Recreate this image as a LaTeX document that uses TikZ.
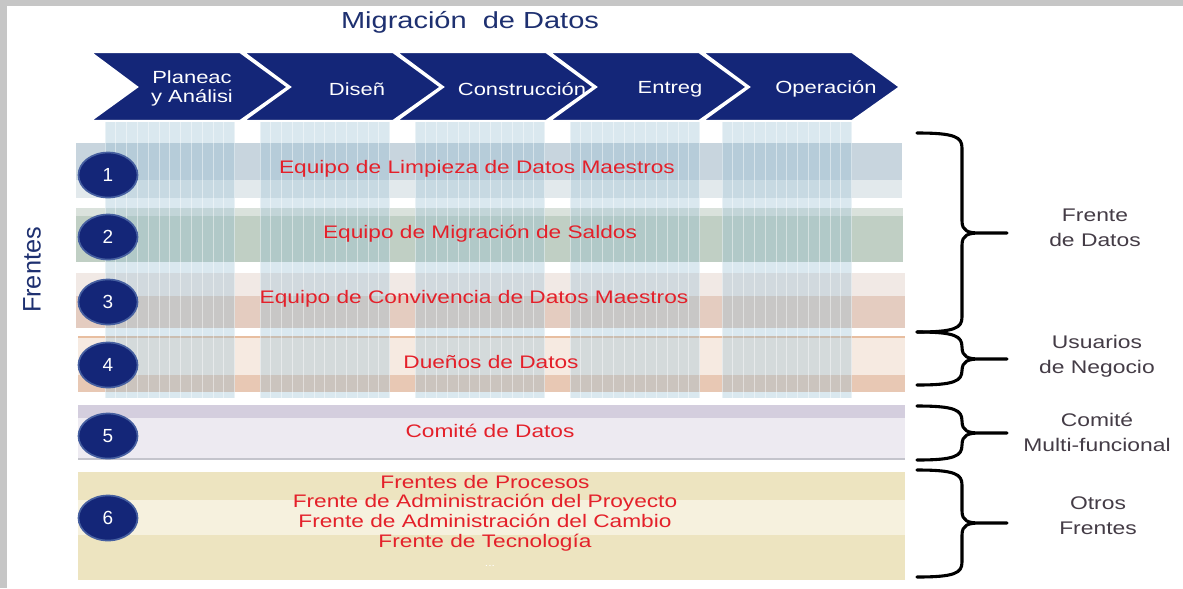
\documentclass[tikz,border=0pt]{standalone}
\usepackage{fontspec}
\setmainfont{Liberation Sans}[FakeStretch=1.25]
\newfontfamily\upfont{Liberation Sans}
\usetikzlibrary{positioning}
\usetikzlibrary{shapes.geometric}
\definecolor{navy}{RGB}{20,38,120}
\definecolor{ringblue}{RGB}{70,95,160}
\definecolor{titleblue}{RGB}{30,48,112}
\definecolor{teamred}{RGB}{228,32,42}
\definecolor{sidegray}{RGB}{68,60,70}
\definecolor{stripe}{RGB}{150,190,210}
\definecolor{barAtop}{RGB}{200,213,222}
\definecolor{barAlow}{RGB}{226,233,236}
\definecolor{barBtop}{RGB}{218,226,220}
\definecolor{barBmid}{RGB}{192,207,196}
\definecolor{barCtop}{RGB}{241,233,229}
\definecolor{barClow}{RGB}{228,204,192}
\definecolor{barDtop}{RGB}{246,234,225}
\definecolor{barDlow}{RGB}{232,200,180}
\definecolor{barDline}{RGB}{232,190,160}
\definecolor{barEtop}{RGB}{212,206,222}
\definecolor{barEmid}{RGB}{237,234,241}
\definecolor{barEline}{RGB}{196,196,204}
\definecolor{barFmid}{RGB}{237,228,192}
\definecolor{barFlight}{RGB}{246,241,222}

\begin{document}
\begin{tikzpicture}[x=0.025cm, y=-0.025cm,
		num/.style={ellipse, fill=navy, draw=ringblue, line width=1.2pt, minimum width=42pt, minimum height=32pt, inner sep=0pt, text=white, font=\upfont\fontsize{13.5}{13.5}\selectfont},
		team/.style={text=teamred, align=center, font=\fontsize{12.9}{13.9}\selectfont},
		phase/.style={text=white, align=center, font=\fontsize{12.5}{13.5}\selectfont},
		side/.style={text=sidegray, align=center, font=\fontsize{13}{17.8}\selectfont},
		brace/.style={line width=2.2pt, line cap=round, line join=round}]

					\useasboundingbox (0,0) rectangle (1183,588);
					\fill [gray!45] (0,0) rectangle (1183,588);
					\fill [white] (7,6) rectangle (1183,588);

					\node [text=titleblue, anchor=base, font=\fontsize{16.5}{18}\selectfont] (title) at (470,28) {Migración\ \ de Datos};

					\foreach \x in {90,243,396,549,702}
						\filldraw [fill=navy, draw=white, line width=1.5pt] (\x,52) -- (\x+150,52) -- (\x+198,87) -- (\x+150,121) -- (\x,121) -- (\x+47,87) -- cycle;

					\node [phase] (plan) at (192,88) {Planeac\\y Análisi};
					\node [phase] (dis) at (357,89) {Diseñ};
					\node [phase] (cons) at (522,89) {Construcción};
					\node [phase] (entr) at (670,89) {Entreg};
					\node [phase] (oper) at (826,89) {Operación};

					\fill [barAtop] (76,143) rectangle (902,180);
					\fill [barAlow] (76,180) rectangle (902,198);
					\fill [barBmid] (76,208) rectangle (903,262);
					\fill [barBtop] (76,208) rectangle (903,216);
					\fill [barCtop] (76,273) rectangle (905,296);
					\fill [barClow] (76,296) rectangle (905,328);
					\fill [barDtop] (78,337) rectangle (905,375);
					\fill [barDlow] (78,375) rectangle (905,392);
					\draw [barDline, line width=1pt] (78,337) -- (905,337);
					\fill [barEmid] (78,405) rectangle (905,460);
					\fill [barEtop] (78,405) rectangle (905,418);
					\draw [barEline, line width=1.2pt] (78,459) -- (905,459);
					\fill [barFmid] (78,472) rectangle (905,580);
					\fill [barFlight] (78,500) rectangle (905,535);

					\foreach \x in {105,260,415,570,722} {
						\fill [stripe, opacity=0.35] (\x,122) rectangle (\x+130,398);
						\foreach \k in {0,...,12}
							\draw [white, opacity=0.45, line width=0.6pt] (\x+\k*10.8,122) -- (\x+\k*10.8,398);
					}

					\node [team] (t1) at (477,169) {Equipo de Limpieza de Datos Maestros};
					\node [team] (t2) at (480,234) {Equipo de Migración de Saldos};
					\node [team] (t3) at (474,299) {Equipo de Convivencia de Datos Maestros};
					\node [team] (t4) at (491,362) {Dueños de Datos};
					\node [team] (t5) at (490,431) {Comité de Datos};
					\node [team] (t6) at (485,513) {Frentes de Procesos\\Frente de Administración del Proyecto\\Frente de Administración del Cambio\\Frente de Tecnología};
					\node [text=white, font=\fontsize{7}{7}\selectfont] (more) at (490,566) {...};

					\foreach \n/\y in {1/175,2/237,3/302,4/365,5/436,6/518}
						\node [num] (c\n) at (108,\y) {\n};

					\node [rotate=90, text=titleblue, font=\upfont\fontsize{18}{18}\selectfont] (fr) at (32,270) {Frentes};

					\foreach \a/\m/\b in {133/233/332, 332/359/385, 406/433/460, 470/523/577}
						\draw [brace] (917,\a) .. controls (955,\a) and (962,\a+4) .. (962,\a+15) -- (962,\m-12) .. controls (962,\m-2) and (968,\m) .. (980,\m) -- (1007,\m)
							(980,\m) .. controls (968,\m) and (962,\m+2) .. (962,\m+12) -- (962,\b-15) .. controls (962,\b-4) and (955,\b) .. (917,\b);

					\node [side] (s1) at (1095,228) {Frente\\de Datos};
					\node [side] (s2) at (1097,356) {Usuarios\\de Negocio};
					\node [side] (s3) at (1097,432) {Comité\\Multi-funcional};
					\node [side] (s4) at (1098,516) {Otros\\Frentes};
				\end{tikzpicture}
\end{document}
